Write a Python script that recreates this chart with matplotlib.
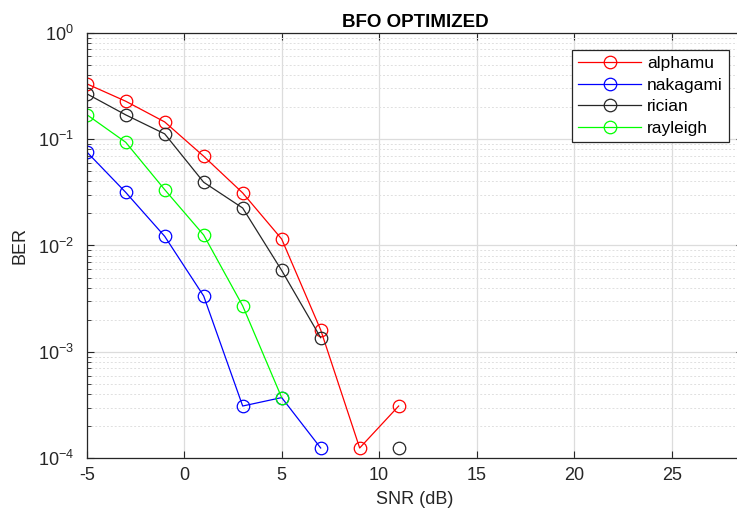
import numpy as np
import matplotlib
matplotlib.use("Agg")
import matplotlib.pyplot as plt
from matplotlib.ticker import LogLocator, NullFormatter

plt.rcParams['font.family'] = ['Liberation Sans', 'DejaVu Sans']
plt.rcParams['axes.unicode_minus'] = False

# SNR points and BER per channel model (nan = no errors counted)
snr = [-5, -3, -1, 1, 3, 5, 7, 9, 11]
alphamu = [0.331, 0.227, 0.145, 0.069, 0.0312, 0.0115, 0.00161, 1.25e-4, 3.1e-4]
nakagami = [0.0759, 0.0316, 0.0122, 0.00335, 3.1e-4, 3.72e-4, 1.25e-4, np.nan, np.nan]
rician = [0.267, 0.169, 0.112, 0.0393, 0.0225, 0.00583, 0.00136, np.nan, 1.25e-4]
rayleigh = [0.170, 0.0934, 0.0335, 0.01255, 0.00271, 3.72e-4, np.nan, np.nan, np.nan]

series = [('alphamu', alphamu, '#ff0000'),
          ('nakagami', nakagami, '#0000ff'),
          ('rician', rician, '#262626'),
          ('rayleigh', rayleigh, '#00ff00')]

fig = plt.figure(figsize=(7.37, 5.11), dpi=100)
ax = fig.add_axes([86.7/737, 52.7/511, 656.3/737, 425.6/511])

for name, vals, col in series:
    ax.semilogy(snr, vals, '-o', color=col, lw=0.9, markersize=9,
                markerfacecolor='none', markeredgewidth=0.9, label=name)

ax.set_xlim(-5, 28.66)
ax.set_ylim(1e-4, 1)
ax.set_xticks([-5, 0, 5, 10, 15, 20, 25])
ax.yaxis.set_major_locator(LogLocator(base=10, numticks=10))
ax.yaxis.set_minor_locator(LogLocator(base=10, subs=np.arange(2, 10), numticks=10))
ax.yaxis.set_minor_formatter(NullFormatter())

ax.grid(True, which='major', color='#dcdcdc', lw=0.9, ls='-')
ax.grid(True, which='minor', axis='y', color='#e0e0e0', lw=0.7, ls=(0, (2, 2)))
ax.set_axisbelow(True)

ax.tick_params(which='both', direction='in', top=True, right=True,
               labelsize=13, colors='#262626')
ax.tick_params(axis='x', pad=6)
ax.tick_params(axis='y', pad=9)
ax.tick_params(which='major', length=5)
ax.tick_params(which='minor', length=3)
for s in ax.spines.values():
    s.set_color('#262626')
    s.set_linewidth(0.9)

ax.set_xlabel('SNR (dB)', fontsize=13, color='#262626', labelpad=5)
ax.set_ylabel('BER', fontsize=13, color='#262626', labelpad=7)
ax.set_title('BFO OPTIMIZED', fontsize=13.5, fontweight='bold', pad=4)

leg = ax.legend(loc='upper right', bbox_to_anchor=(727/743, 1 - 17/425.6),
                fontsize=12.5, fancybox=False, framealpha=1,
                edgecolor='#262626', handlelength=3.6, borderpad=0.35,
                labelspacing=0.38, handletextpad=0.35, borderaxespad=0)
leg.get_frame().set_linewidth(0.9)

fig.savefig('out.png', dpi=100)
